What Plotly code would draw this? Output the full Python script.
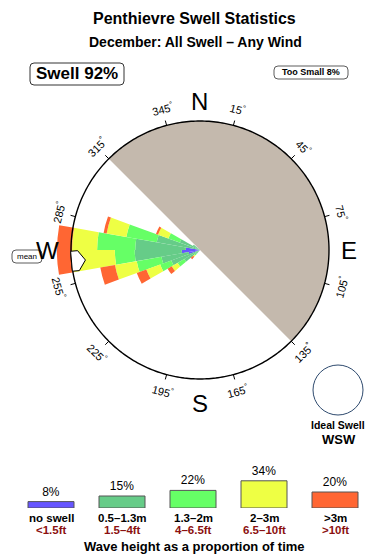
import numpy as np
import plotly.graph_objects as go

W, H = 390, 560

# ---------------- data ----------------
title = "Penthievre Swell Statistics"
subtitle = "December: All Swell – Any Wind"
swell_label = "Swell 92%"
too_small_label = "Too Small 8%"
mean_label = "mean"
ideal_label = "Ideal Swell"
ideal_dir = "WSW"
legend_title = "Wave height as a proportion of time"

directions = [225, 235, 245, 255, 265, 275, 285, 295, 305]   # bin centres (deg)
no_swell = [0.0, 0.0, 0.0, 0.2, 0.5, 0.3, 0.0, 0.0, 0.0]
h_05_13 = [0.04, 0.5, 1.4, 2.1, 5.9, 6.0, 2.9, 0.7, 0.1]
h_13_2 = [0.03, 0.5, 1.3, 3.9, 4.5, 9.6, 5.5, 1.0, 0.0]
h_2_3 = [0.05, 0.6, 2.2, 5.0, 13.8, 8.7, 5.1, 1.3, 0.0]
h_3 = [0.10, 0.5, 1.9, 4.2, 6.1, 6.1, 0.9, 0.3, 0.0]

class_names = ["no swell", "0.5–1.3m", "1.3–2m", "2–3m", ">3m"]
class_feet = ["<1.5ft", "1.5–4ft", "4–6.5ft", "6.5–10ft", ">10ft"]
class_pct = [8, 15, 22, 34, 20]
class_colors = ["#6655ff", "#66cc88", "#66ff66", "#eeff44", "#ff6633"]

tick_bearings = [15, 45, 75, 105, 135, 165, 195, 225, 255, 285, 315, 345]
compass_letters = ["N", "E", "S", "W"]
compass_bearings = [0, 90, 180, 270]
mean_direction = 265
land_centre, land_width = 45, 180   # shadowed sector 315 -> 135 via N

# ---------------- geometry ----------------
CX, CY = 200.0, 250.0        # rose centre, px from top-left
R_CIRCLE_PX = 129.0          # outer ring radius in px
R_CIRCLE = 5.0               # sqrt(25 %)
RMAX = 5.8
PX = R_CIRCLE_PX / R_CIRCLE
R_DOM = RMAX * PX
FONT = "Liberation Sans"


def px2paper(x, y):
    return x / W, (H - y) / H


def polar_px(bearing, rpx):
    t = np.deg2rad(bearing)
    return CX + rpx * np.sin(t), CY - rpx * np.cos(t)


fig = go.Figure()

# land shadow
fig.add_trace(go.Barpolar(theta=[land_centre], r=[R_CIRCLE], width=[land_width], base=[0],
                          marker=dict(color="#c4b9ad", line=dict(width=0)), hoverinfo="skip"))

# rose (area-proportional: radius = sqrt(cumulative %))
series = [no_swell, h_05_13, h_13_2, h_2_3, h_3]
cum = np.zeros(len(directions))
for vals, col in zip(series, class_colors):
    new = cum + np.array(vals)
    base = np.sqrt(cum)
    top = np.sqrt(new)
    fig.add_trace(go.Barpolar(theta=directions, r=top - base, base=base, width=[10] * len(directions),
                              marker=dict(color=col, line=dict(width=0)), hoverinfo="skip"))
    cum = new

# outer ring
ring = np.linspace(0, 360, 361)
fig.add_trace(go.Scatterpolar(theta=ring, r=[R_CIRCLE] * len(ring), mode="lines",
                              line=dict(color="black", width=1.4), hoverinfo="skip"))

# ticks
tt, tr = [], []
for b in tick_bearings:
    tt += [b, b, None]
    tr += [R_CIRCLE, R_CIRCLE + 5 / PX, None]
fig.add_trace(go.Scatterpolar(theta=tt, r=tr, mode="lines", line=dict(color="black", width=1),
                              hoverinfo="skip"))

# mean arrow (pentagon pointing inward)
local = [(129, -10), (122, -10), (115, 0), (122, 10), (129, 10), (129, -10)]
at, ar = [], []
for a, p in local:
    at.append(mean_direction + np.rad2deg(np.arctan2(p, a)))
    ar.append(np.hypot(a, p) / PX)
fig.add_trace(go.Scatterpolar(theta=at, r=ar, mode="lines", fill="toself", fillcolor="white",
                              line=dict(color="black", width=1), hoverinfo="skip"))

# legend bars
lx = list(range(len(class_pct)))
fig.add_trace(go.Bar(x=lx, y=class_pct, width=0.648, xaxis="x", yaxis="y",
                     marker=dict(color=class_colors, line=dict(color="#555555", width=1)),
                     text=[f"{v}%" for v in class_pct], textposition="outside", cliponaxis=False,
                     textfont=dict(size=12, color="black", family=FONT),
                     hoverinfo="skip"))

ann = []
shapes = []


def note(text, x, y, size, color="black", xref="paper", angle=0):
    ann.append(dict(text=text, x=x, y=y, xref=xref, yref="paper", showarrow=False,
                    xanchor="center", yanchor="middle", textangle=angle,
                    font=dict(size=size, family=FONT, color=color)))


note(f"<b>{title}</b>", 194.5 / W, (H - 18.5) / H, 16)
note(f"<b>{subtitle}</b>", 195 / W, (H - 42) / H, 14)


def rrect(x0, y0, x1, y1, rad):
    rx, ry = rad / W, rad / H
    a0, b1 = px2paper(x0, y0)
    a1, b0 = px2paper(x1, y1)
    return (f"M {a0+rx},{b1} L {a1-rx},{b1} Q {a1},{b1} {a1},{b1-ry} L {a1},{b0+ry} "
            f"Q {a1},{b0} {a1-rx},{b0} L {a0+rx},{b0} Q {a0},{b0} {a0},{b0+ry} "
            f"L {a0},{b1-ry} Q {a0},{b1} {a0+rx},{b1} Z")


shapes.append(dict(type="path", xref="paper", yref="paper", path=rrect(30, 63, 124, 85, 4),
                   line=dict(color="#333333", width=1)))
note(f"<b>{swell_label}</b>", 77 / W, (H - 74) / H, 17)
shapes.append(dict(type="path", xref="paper", yref="paper", path=rrect(274, 66, 348, 79, 4),
                   line=dict(color="#333333", width=0.8)))
note(f"<b>{too_small_label}</b>", 311 / W, (H - 72.5) / H, 9)
shapes.append(dict(type="path", xref="paper", yref="paper", path=rrect(12, 250, 42, 263, 4),
                   line=dict(color="#333333", width=0.8)))
note(mean_label, 27 / W, (H - 256.5) / H, 8)

# degree labels
for b in tick_bearings:
    x, y = polar_px(b, 146)
    ang = ((b + 90) % 180) - 90
    px_, py_ = px2paper(x, y)
    note(f"{b}<sup>°</sup>", px_, py_, 11, angle=ang)

# compass letters
compass_r = [150, 149, 152, 152.5]
for L, b, rr in zip(compass_letters, compass_bearings, compass_r):
    x, y = polar_px(b, rr)
    px_, py_ = px2paper(x, y + 1)
    note(L, px_, py_, 24)

# ideal swell
shapes.append(dict(type="circle", xref="paper", yref="paper", x0=313 / W, x1=363 / W,
                   y0=(H - 415) / H, y1=(H - 365) / H, line=dict(color="#2e4a6e", width=1)))
note(f"<b>{ideal_label}</b>", 338 / W, (H - 425) / H, 10.5)
note(f"<b>{ideal_dir}</b>", 338.5 / W, (H - 439.5) / H, 13)

# legend labels
for i, (n, f) in enumerate(zip(class_names, class_feet)):
    note(f"<b>{n}</b>", i, (H - 518) / H, 11.5, xref="x")
    note(f"<b>{f}</b>", i, (H - 529.5) / H, 11.5, color="#8b1010", xref="x")
note(f"<b>{legend_title}</b>", 194.5 / W, (H - 546) / H, 13)

dx0, dy1 = px2paper(CX - R_DOM, CY - R_DOM)
dx1, dy0 = px2paper(CX + R_DOM, CY + R_DOM)

fig.update_layout(
    width=W, height=H, margin=dict(l=0, r=0, t=0, b=0),
    paper_bgcolor="white", plot_bgcolor="white", showlegend=False,
    font=dict(family=FONT),
    polar=dict(domain=dict(x=[dx0, dx1], y=[dy0, dy1]), bgcolor="rgba(0,0,0,0)",
               barmode="overlay", bargap=0,
               angularaxis=dict(rotation=90, direction="clockwise", visible=False),
               radialaxis=dict(range=[0, RMAX], visible=False)),
    xaxis=dict(domain=[0, 1], range=[-51 / 71, (W - 51) / 71], visible=False, fixedrange=True),
    yaxis=dict(domain=[52 / H, 52 / H + 32 / H], range=[0, 40], visible=False, fixedrange=True),
    annotations=ann, shapes=shapes,
)

fig.write_html("out.html", include_plotlyjs=True, config={"displayModeBar": False})
